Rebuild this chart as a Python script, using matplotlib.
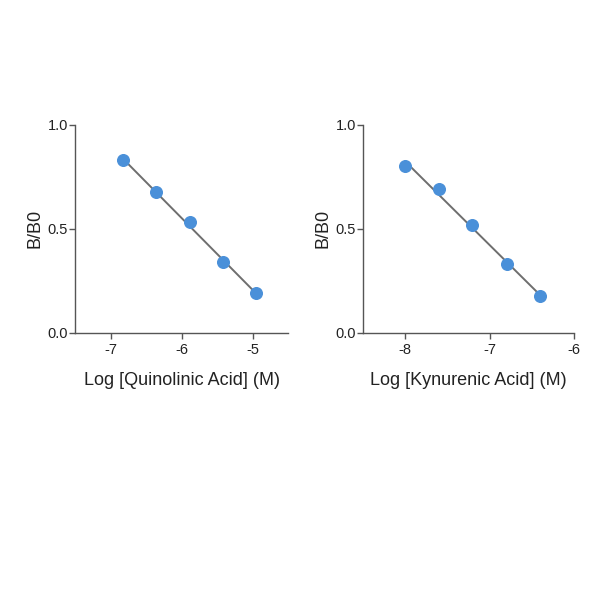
import matplotlib
matplotlib.use("Agg")
import matplotlib.pyplot as plt
import numpy as np

plt.rcParams['font.family'] = ['Liberation Sans', 'DejaVu Sans']

# Quinolinic acid standard curve
quin_x = [-6.82, -6.36, -5.88, -5.42, -4.95]
quin_y = [0.83, 0.675, 0.532, 0.34, 0.19]

# Kynurenic acid standard curve
kyn_x = [-8.0, -7.6, -7.21, -6.8, -6.41]
kyn_y = [0.80, 0.69, 0.52, 0.33, 0.18]

quin_ticks = [-7, -6, -5]
kyn_ticks = [-8, -7, -6]
y_ticks = [0.0, 0.5, 1.0]
y_ticklabels = ['0.0', '0.5', '1.0']

point_color = '#4a90d9'
line_color = '#6e6e6e'
axis_color = '#555555'

fig = plt.figure(figsize=(6, 6), dpi=100)
ax1 = fig.add_axes([0.125, 0.445, 0.355, 0.347])
ax2 = fig.add_axes([0.605, 0.445, 0.352, 0.347])

panels = [
    (ax1, quin_x, quin_y, quin_ticks, (-7.5, -4.5), 'Log [Quinolinic Acid] (M)'),
    (ax2, kyn_x, kyn_y, kyn_ticks, (-8.5, -6.0), 'Log [Kynurenic Acid] (M)'),
]

for ax, xs, ys, xt, xl, label in panels:
    # straight-line fit through the standards
    coef = np.polyfit(xs, ys, 1)
    fx = np.linspace(min(xs), max(xs), 50)
    ax.plot(fx, np.polyval(coef, fx), color=line_color, linewidth=1.4, zorder=2)
    ax.scatter(xs, ys, s=70, color=point_color, zorder=3, clip_on=False)

    ax.set_xlim(*xl)
    ax.set_ylim(0, 1)
    ax.set_xticks(xt)
    ax.set_xticklabels([str(t) for t in xt])
    ax.set_yticks(y_ticks)
    ax.set_yticklabels(y_ticklabels)
    ax.spines['top'].set_visible(False)
    ax.spines['right'].set_visible(False)
    for s in ['left', 'bottom']:
        ax.spines[s].set_color(axis_color)
        ax.spines[s].set_linewidth(1.0)
    ax.tick_params(axis='both', direction='out', length=4, width=1.0, color=axis_color,
                   labelsize=10.5, labelcolor='#222222')
    ax.tick_params(axis='y', pad=1)
    ax.tick_params(axis='x', pad=3)
    ax.set_xlabel(label, fontsize=13, color='#222222', labelpad=11)
    ax.set_ylabel('B/B0', fontsize=13, color='#222222', labelpad=3)

fig.savefig('out.png', dpi=100)
